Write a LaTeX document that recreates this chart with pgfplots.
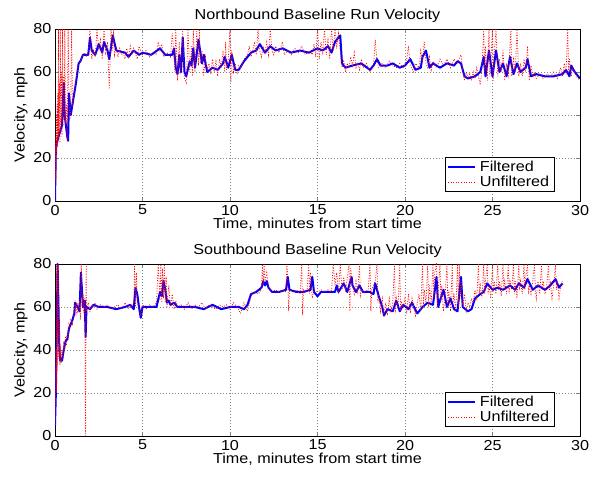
\documentclass[border=0pt]{standalone}
\usepackage{pgfplots}
\pgfplotsset{compat=1.18}
\usepackage{fontspec}
\setmainfont{Liberation Sans}[FakeStretch=1.12]
\definecolor{mblue}{rgb}{0,0,1}
\definecolor{mred}{rgb}{1,0,0}
\newcommand{\fs}{\fontsize{14.5}{17}\selectfont}
\pgfplotsset{
  mystyle/.style={
    scale only axis, width=525bp, height=172bp,
    xmin=0, xmax=30, ymin=0, ymax=80,
    xtick={0,5,...,30}, ytick={0,20,...,80},
    tick align=inside, major tick length=4bp,
    grid=major, major grid style={dash pattern=on 0.6bp off 2.4bp, black!50, line width=0.5bp},
    axis line style={line width=0.7bp},
    /pgf/number format/assume math mode=true,
    tick label style={font=\fs},
    xticklabel style={yshift=-0.5bp},
    yticklabel style={xshift=0bp},
    label style={font=\fs},
    title style={font=\fs, yshift=-3bp},
    xlabel={Time, minutes from start time},
    ylabel={Velocity, mph},
    xlabel style={yshift=4bp},
    ylabel style={yshift=-1bp},
    legend cell align=left,
    legend style={font=\fs, at={(1,0)}, anchor=south east,
      xshift=-25bp, yshift=9bp, draw=black, line width=0.7bp, inner sep=1.5bp,
      row sep=-1bp, nodes={inner xsep=4bp}},
    legend image code/.code={\draw[#1] (0bp,0bp) -- (27bp,0bp);},
  },
  filt/.style={color=mblue, line width=2bp, line join=round},
  unf/.style={color=mred, line width=0.7bp, dash pattern=on 1bp off 1.6bp},
}
\begin{document}
\begin{tikzpicture}
\useasboundingbox (0,0) rectangle (607bp,481bp);
\begin{axis}[mystyle, at={(55bp,280bp)}, anchor=south west,
  title={Northbound Baseline Run Velocity}]
\addplot[filt] coordinates {
(0,0) (0.05,25) (0.2,30) (0.4,35) (0.5,55) (0.55,40) (0.7,30) (0.75,28) (0.8,50) (0.9,40) (1.0,45) (1.2,55) (1.35,64) (1.45,65) (1.6,68) (1.9,68) (2.0,76) (2.1,70) (2.3,68) (2.5,73) (2.7,69) (2.8,74) (3.0,70) (3.1,66) (3.3,77) (3.5,70) (4.0,69) (4.2,67) (4.5,70) (4.8,68) (5.0,69) (5.5,68) (6.0,71) (6.3,68) (6.7,68) (6.8,71) (6.9,62) (7.0,59) (7.1,68) (7.2,60) (7.3,76) (7.4,60) (7.5,58) (7.7,65) (7.8,63) (7.9,71) (8.0,62) (8.2,75) (8.4,64) (8.5,68) (8.7,60) (9.0,62) (9.3,61) (9.6,64) (9.7,67) (9.9,62) (10.1,68) (10.3,61) (10.5,61) (10.8,65) (11.2,69) (11.5,70) (11.7,73) (12.0,69) (12.3,72) (12.6,70) (13.0,71) (13.5,69) (14.0,70) (14.5,69) (15.0,71) (15.3,70) (15.6,72) (15.8,69) (16.0,74) (16.2,76) (16.3,77) (16.4,64) (16.6,62) (17.0,63) (17.5,64) (18.0,61) (18.2,63) (18.4,66) (18.6,63) (19.0,63) (19.3,64) (19.7,62) (20.0,63) (20.3,66) (20.6,61) (20.9,62) (21.0,67) (21.2,70) (21.4,62) (21.6,64) (22.0,62) (22.4,64) (22.8,63) (23.0,65) (23.2,64) (23.4,58) (23.6,57) (24.0,58) (24.3,60) (24.5,67) (24.6,58) (24.8,70) (25.0,58) (25.2,70) (25.4,60) (25.6,64) (25.8,58) (26.0,67) (26.2,59) (26.4,64) (26.6,60) (26.9,62) (27.0,66) (27.2,58) (27.5,59) (28.0,58) (28.5,58) (29.0,59) (29.2,61) (29.4,58) (29.5,63) (29.7,60) (29.9,58) (30,57)
};
\addlegendentry{Filtered}
\addplot[unf] coordinates {
(0,0) (0.02,15) (0.04,30) (0.06,10) (0.08,40) (0.1,22) (0.12,45) (0.14,25) (0.16,50) (0.18,28) (0.2,80) (0.22,30) (0.25,55) (0.28,27) (0.3,80) (0.33,32) (0.36,60) (0.4,30) (0.43,80) (0.46,35) (0.5,58) (0.53,38) (0.56,80) (0.6,36) (0.65,45) (0.7,28) (0.75,80) (0.8,48) (0.85,38) (0.9,42) (0.95,80) (1.0,44) (1.1,50) (1.2,56) (1.3,63) (1.4,65) (1.5,66) (1.6,68) (1.7,69) (1.8,67) (1.9,70) (2.0,80) (2.05,72) (2.1,66) (2.2,70) (2.3,67) (2.4,80) (2.5,70) (2.6,75) (2.7,66) (2.8,80) (2.9,69) (3.0,74) (3.1,52) (3.2,80) (3.3,70) (3.35,80) (3.4,68) (3.5,72) (3.6,67) (3.7,71) (3.8,68) (3.9,69) (4.0,66) (4.1,71) (4.2,67) (4.3,72) (4.4,68) (4.5,71) (4.7,66) (4.8,72) (5.0,68) (5.2,70) (5.4,67) (5.6,69) (5.8,68) (5.9,74) (6.0,70) (6.1,73) (6.2,67) (6.4,69) (6.6,67) (6.7,78) (6.8,68) (6.85,60) (6.9,80) (7.0,56) (7.1,74) (7.15,59) (7.2,64) (7.3,80) (7.35,62) (7.4,57) (7.5,55) (7.55,66) (7.6,80) (7.7,60) (7.8,72) (7.85,58) (7.9,80) (8.0,60) (8.1,79) (8.2,63) (8.25,80) (8.3,64) (8.4,70) (8.5,58) (8.6,67) (8.7,61) (8.8,64) (8.9,59) (9.0,66) (9.1,60) (9.2,65) (9.3,58) (9.4,66) (9.5,62) (9.6,70) (9.7,60) (9.75,74) (9.8,61) (9.9,66) (10.0,80) (10.05,55) (10.1,70) (10.2,60) (10.3,64) (10.4,59) (10.5,63) (10.6,62) (10.8,66) (11.0,68) (11.1,72) (11.2,67) (11.3,70) (11.4,74) (11.5,68) (11.6,80) (11.7,70) (11.8,67) (11.9,72) (12.0,69) (12.1,74) (12.2,68) (12.3,80) (12.4,70) (12.5,68) (12.6,72) (12.8,69) (13.0,74) (13.1,68) (13.3,70) (13.5,68) (13.7,71) (13.9,69) (14.1,72) (14.3,68) (14.5,70) (14.7,68) (14.8,73) (14.9,67) (15.0,80) (15.1,66) (15.2,74) (15.3,69) (15.4,80) (15.5,68) (15.6,75) (15.7,66) (15.8,80) (15.9,70) (16.0,80) (16.1,72) (16.2,78) (16.3,70) (16.4,62) (16.5,65) (16.6,60) (16.7,64) (16.8,62) (16.9,67) (17.0,63) (17.1,69) (17.2,62) (17.3,64) (17.4,61) (17.5,66) (17.6,62) (17.8,64) (18.0,60) (18.2,63) (18.3,75) (18.4,65) (18.5,62) (18.7,64) (18.9,62) (19.1,65) (19.3,63) (19.5,62) (19.7,64) (19.9,62) (20.1,66) (20.2,72) (20.3,63) (20.5,60) (20.6,64) (20.8,62) (20.9,70) (21.0,65) (21.1,74) (21.2,64) (21.3,62) (21.4,67) (21.5,61) (21.6,65) (21.8,62) (22.0,66) (22.2,63) (22.4,66) (22.6,62) (22.8,66) (23.0,64) (23.2,68) (23.3,60) (23.4,56) (23.5,60) (23.6,57) (23.7,59) (23.8,56) (23.9,60) (24.0,57) (24.1,62) (24.2,58) (24.3,54) (24.4,62) (24.5,80) (24.55,60) (24.6,72) (24.7,56) (24.8,80) (24.85,58) (24.9,64) (25.0,80) (25.05,56) (25.1,68) (25.2,80) (25.3,58) (25.4,66) (25.5,60) (25.6,70) (25.7,56) (25.8,64) (25.9,57) (26.0,72) (26.05,80) (26.1,58) (26.2,66) (26.3,60) (26.4,80) (26.5,58) (26.6,64) (26.7,58) (26.8,66) (26.9,60) (27.0,72) (27.1,56) (27.2,63) (27.3,58) (27.4,60) (27.5,57) (27.7,59) (27.9,57) (28.1,59) (28.3,58) (28.5,60) (28.7,57) (28.9,62) (29.0,58) (29.1,64) (29.2,60) (29.3,80) (29.35,60) (29.4,66) (29.5,58) (29.6,62) (29.7,60) (29.8,58) (29.9,57) (30,56)
};
\addlegendentry{Unfiltered}
\end{axis}
\begin{axis}[mystyle, at={(55bp,45bp)}, anchor=south west,
  title={Southbound Baseline Run Velocity}]
\addplot[filt] coordinates {
(0,5) (0.05,20) (0.1,50) (0.15,80) (0.2,60) (0.25,40) (0.3,35) (0.4,35) (0.5,40) (0.6,44) (0.7,45) (0.8,50) (0.9,52) (1.0,54) (1.1,57) (1.15,62) (1.3,60) (1.4,58) (1.48,76) (1.6,60) (1.7,63) (1.75,46) (1.8,60) (2.0,59) (2.2,61) (2.5,60) (3.0,60) (3.5,59) (4.0,60) (4.3,61) (4.5,59) (4.6,69) (4.7,66) (4.8,60) (4.9,55) (5.0,60) (5.5,60) (5.8,60) (6.0,67) (6.1,65) (6.2,72) (6.3,68) (6.4,62) (6.5,63) (6.6,61) (6.8,62) (7.0,60) (7.5,60) (8.0,60) (8.5,59) (9.0,61) (9.5,59) (10,60) (10.5,60) (10.8,59) (11.0,61) (11.2,66) (11.5,67) (11.8,69) (11.9,72) (12.0,70) (12.1,72) (12.2,69) (12.4,67) (12.8,67) (13.2,68) (13.3,74) (13.4,68) (13.8,67) (14.2,67) (14.6,68) (14.7,74) (14.8,67) (15.0,65) (15.2,67) (15.5,67) (16.0,67) (16.1,70) (16.2,67) (16.5,71) (16.7,67) (16.95,74) (17.0,70) (17.2,67) (17.4,70) (17.6,67) (18.0,67) (18.2,66) (18.3,71) (18.5,65) (18.7,60) (18.8,56) (19.0,59) (19.3,58) (19.5,63) (19.7,58) (19.9,61) (20.2,59) (20.4,62) (20.7,57) (21.0,60) (21.3,62) (21.6,61) (21.8,74) (21.9,60) (22.0,63) (22.2,68) (22.4,60) (22.6,64) (22.8,59) (23.0,58) (23.2,74) (23.3,60) (23.6,58) (23.8,59) (24.0,64) (24.3,66) (24.5,67) (24.7,71) (25.0,68) (25.3,69) (25.6,68) (26.0,70) (26.3,68) (26.5,71) (26.8,69) (27.0,73) (27.3,68) (27.6,70) (28.0,68) (28.3,70) (28.6,73) (28.8,69) (29.0,71)
};
\addlegendentry{Filtered}
\addplot[unf] coordinates {
(0,5) (0.03,18) (0.06,40) (0.08,20) (0.1,80) (0.12,30) (0.15,80) (0.17,45) (0.2,80) (0.22,36) (0.25,55) (0.28,33) (0.3,42) (0.35,34) (0.4,40) (0.45,36) (0.5,44) (0.55,40) (0.6,46) (0.65,42) (0.7,48) (0.75,46) (0.8,52) (0.85,50) (0.9,54) (1.0,52) (1.05,56) (1.1,58) (1.15,63) (1.2,56) (1.25,62) (1.3,58) (1.4,63) (1.45,54) (1.5,80) (1.55,60) (1.6,66) (1.65,57) (1.7,64) (1.75,0) (1.78,80) (1.8,58) (1.9,62) (2.0,58) (2.1,61) (2.2,60) (2.3,62) (2.4,59) (2.6,61) (2.8,60) (3.0,61) (3.2,59) (3.4,60) (3.6,61) (3.8,59) (4.0,62) (4.2,59) (4.3,61) (4.4,60) (4.5,62) (4.55,80) (4.6,60) (4.65,76) (4.7,63) (4.8,59) (4.9,56) (5.0,61) (5.2,59) (5.4,61) (5.6,60) (5.8,62) (5.9,80) (6.0,63) (6.05,80) (6.1,62) (6.15,78) (6.2,64) (6.25,80) (6.3,62) (6.35,74) (6.4,60) (6.5,70) (6.6,60) (6.7,66) (6.8,59) (6.9,63) (7.0,60) (7.2,61) (7.4,59) (7.6,62) (7.8,59) (8.0,61) (8.2,60) (8.4,62) (8.6,59) (8.8,61) (9.0,60) (9.2,59) (9.4,61) (9.6,60) (9.8,61) (10.0,59) (10.2,62) (10.4,60) (10.6,57) (10.8,62) (11.0,58) (11.2,65) (11.4,67) (11.6,66) (11.8,68) (11.85,80) (11.9,70) (11.95,80) (12.0,72) (12.1,76) (12.2,69) (12.4,67) (12.6,68) (12.8,67) (13.0,68) (13.2,67) (13.25,80) (13.3,74) (13.35,58) (13.4,68) (13.6,67) (13.8,68) (14.0,66) (14.1,80) (14.15,56) (14.2,68) (14.4,67) (14.5,80) (14.55,66) (14.6,76) (14.7,64) (14.8,68) (15.0,67) (15.2,68) (15.4,67) (15.6,68) (15.8,67) (15.9,80) (16.0,70) (16.1,76) (16.2,66) (16.3,80) (16.4,68) (16.5,74) (16.6,67) (16.8,80) (16.85,58) (16.9,78) (17.0,70) (17.1,66) (17.2,72) (17.3,67) (17.4,80) (17.45,64) (17.5,68) (17.7,67) (17.9,68) (18.0,80) (18.05,58) (18.1,68) (18.3,72) (18.4,80) (18.45,62) (18.5,66) (18.6,58) (18.7,64) (18.8,56) (18.9,62) (19.0,57) (19.1,64) (19.2,58) (19.3,62) (19.4,80) (19.45,57) (19.5,64) (19.6,59) (19.7,80) (19.75,58) (19.8,62) (19.9,60) (20.0,64) (20.1,58) (20.2,66) (20.3,57) (20.4,64) (20.5,60) (20.6,56) (20.7,62) (20.8,66) (20.9,58) (21.0,80) (21.05,60) (21.1,68) (21.2,62) (21.3,80) (21.35,60) (21.4,70) (21.5,62) (21.6,80) (21.65,64) (21.7,76) (21.8,80) (21.85,60) (21.9,68) (22.0,80) (22.05,62) (22.1,70) (22.2,58) (22.3,66) (22.4,80) (22.45,60) (22.5,68) (22.6,58) (22.7,80) (22.75,62) (22.8,66) (22.9,58) (23.0,80) (23.05,60) (23.1,80) (23.15,64) (23.2,72) (23.3,60) (23.4,66) (23.5,58) (23.6,62) (23.7,60) (23.8,64) (23.9,62) (24.0,68) (24.1,64) (24.2,80) (24.25,66) (24.3,70) (24.4,64) (24.5,80) (24.55,66) (24.6,72) (24.7,80) (24.75,66) (24.8,70) (24.9,64) (25.0,80) (25.05,67) (25.1,72) (25.2,66) (25.3,80) (25.35,68) (25.4,72) (25.5,65) (25.6,80) (25.65,68) (25.7,72) (25.8,66) (25.9,80) (25.95,66) (26.0,72) (26.1,68) (26.2,80) (26.25,66) (26.3,72) (26.4,64) (26.5,80) (26.55,68) (26.6,72) (26.7,66) (26.8,80) (26.85,68) (26.9,74) (27.0,80) (27.05,66) (27.1,70) (27.2,66) (27.3,72) (27.4,80) (27.45,68) (27.5,64) (27.6,72) (27.7,66) (27.8,80) (27.85,68) (27.9,72) (28.0,66) (28.1,70) (28.2,80) (28.25,68) (28.3,72) (28.4,64) (28.5,70) (28.6,80) (28.65,68) (28.7,72) (28.8,64) (28.9,70) (29.0,72)
};
\addlegendentry{Unfiltered}
\end{axis}
\end{tikzpicture}
\end{document}
